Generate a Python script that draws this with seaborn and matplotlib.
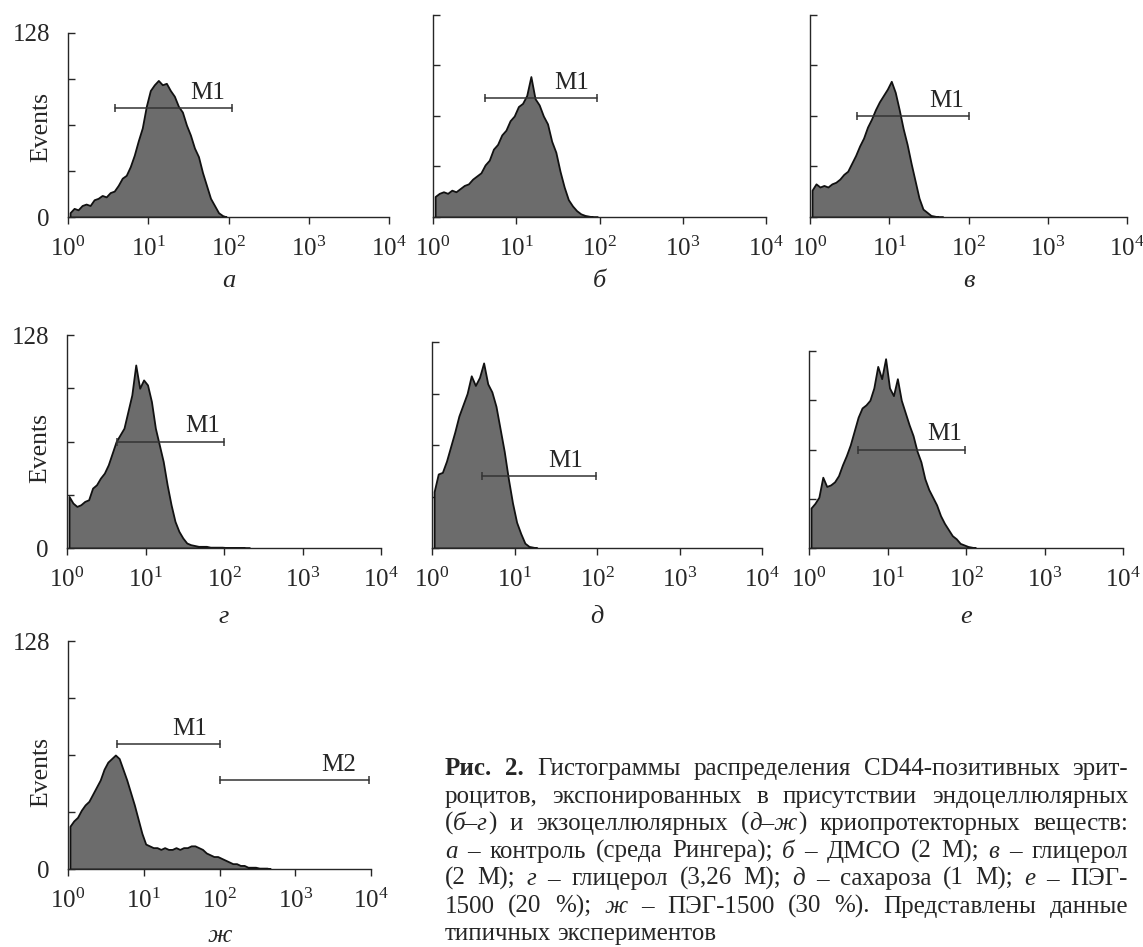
import numpy as np
import pandas as pd
import matplotlib
matplotlib.use("Agg")
import matplotlib.pyplot as plt
import matplotlib.ticker as mticker
import seaborn as sns

# ================================
# Data
# ================================
# histogram channels: 0.05-decade bins starting at 10^0
STEP = 0.05

events_a = [3, 6, 5, 8, 9, 8, 12, 13, 15, 14, 17, 18, 22, 27, 29, 35, 43, 53, 62, 77,
            88, 92, 95, 92, 93, 88, 84, 77, 73, 64, 57, 48, 42, 31, 22, 13, 8, 3, 1, 0]
events_b = [13, 15, 16, 15, 17, 16, 18, 20, 21, 24, 26, 28, 33, 36, 43, 46, 52, 55, 61, 64,
            70, 72, 77, 89, 75, 71, 64, 59, 48, 41, 29, 19, 11, 7, 4, 2, 1, 0.5, 0, 0]
events_v = [17, 21, 19, 20, 19, 21, 22, 24, 27, 29, 34, 39, 45, 50, 57, 62, 68, 73, 77, 81,
            86, 79, 68, 56, 46, 34, 23, 12, 5, 3, 1, 0.5, 0, 0]
events_g = [31, 27, 25, 26, 28, 29, 36, 38, 42, 45, 50, 57, 64, 68, 72, 82, 92, 110, 96, 101,
            98, 88, 72, 62, 52, 38, 26, 16, 10, 6, 3, 2, 1.5, 1, 1, 1, 0.5, 0.5, 0.5, 0.5,
            0.3, 0.3, 0.3, 0.3, 0.3, 0, 0]
events_d = [35, 46, 47, 54, 63, 72, 82, 89, 96, 107, 101, 106, 115, 102, 97, 88, 74, 60, 43, 28,
            16, 9, 3, 1, 0.5, 0]
events_e = [26, 29, 33, 46, 40, 41, 43, 47, 54, 60, 67, 76, 85, 91, 93, 96, 104, 118, 110, 123,
            104, 99, 110, 96, 88, 80, 73, 63, 56, 45, 38, 33, 28, 21, 16, 12, 8, 6, 3, 2,
            1, 0.5, 0]
events_zh = [24, 27, 29, 33, 36, 38, 42, 46, 50, 56, 60, 62, 64, 62, 56, 50, 43, 36, 28, 20,
             14, 13, 12, 12, 11, 12, 11, 11, 12, 11, 12, 12, 13, 13, 12, 11, 9, 8, 7, 7,
             6, 5, 4, 3, 3, 2, 2, 1, 1, 1, 0.5, 0.5, 0.5, 0]

panel_letters = ["а", "б", "в", "г", "д", "е", "ж"]
panel_events = [events_a, events_b, events_v, events_g, events_d, events_e, events_zh]

# marker gates: (name, log10 start, log10 end, level, log10 label centre)
gates = [
    [("M1", 0.59, 2.04, 76, 1.74)],
    [("M1", 0.62, 1.97, 75.5, 1.67)],
    [("M1", 0.59, 2.00, 64, 1.73)],
    [("M1", 0.64, 2.00, 64, 1.73)],
    [("M1", 0.61, 1.99, 45, 1.62)],
    [("M1", 0.63, 1.99, 64, 1.73)],
    [("M1", 0.65, 2.00, 70, 1.60), ("M2", 2.00, 3.97, 50, 3.57)],
]

x_ticks = [1, 10, 100, 1000, 10000]
x_ticklabels = [r"$10^{0}$", r"$10^{1}$", r"$10^{2}$", r"$10^{3}$", r"$10^{4}$"]
y_ticks = [0, 32, 64, 96, 128]

caption = [
    [("Рис. 2.", "b"), (" Гистограммы распределения CD44-позитивных эрит-", "n")],
    [("роцитов, экспонированных в присутствии эндоцеллюлярных", "n")],
    [("(", "n"), ("б–г", "i"), (") и экзоцеллюлярных (", "n"), ("д–ж", "i"),
     (") криопротекторных веществ:", "n")],
    [("а", "i"), (" – контроль (среда Рингера); ", "n"), ("б", "i"), (" – ДМСО (2 М); ", "n"),
     ("в", "i"), (" – глицерол", "n")],
    [("(2 М); ", "n"), ("г", "i"), (" – глицерол (3,26 М); ", "n"), ("д", "i"),
     (" – сахароза (1 М); ", "n"), ("е", "i"), (" – ПЭГ-", "n")],
    [("1500 (20 %); ", "n"), ("ж", "i"), (" – ПЭГ-1500 (30 %). Представлены данные", "n")],
    [("типичных экспериментов", "n")],
]

# ================================
# Layout (pixels in a 1143x947 canvas)
# ================================
W, H, DPI = 1143, 947, 100
# left, top, right, bottom of each plotting area
boxes = [(68, 33, 389, 217), (433, 15, 766, 217), (810, 15, 1127, 217),
         (67, 335, 381, 548), (432, 342, 762, 548), (809, 351, 1123, 548),
         (68, 641, 371, 869)]
letter_drop = [64, 64, 64, 69, 69, 69, 67]
events_label_y = {0: 0.489, 3: 0.469, 6: 0.425}

FILL = "#6c6c6c"
EDGE = "#111111"
CAP_LEFT, CAP_RIGHT = 445, 1128
CAP_BASE, CAP_LEAD = 775, 27.5
CAP_SIZE = 18

sns.set_style("ticks")
plt.rcParams["font.family"] = ["Liberation Serif", "DejaVu Serif"]
plt.rcParams["mathtext.fontset"] = "custom"
plt.rcParams["mathtext.rm"] = "Liberation Serif"
plt.rcParams["mathtext.it"] = "Liberation Serif:italic"
plt.rcParams["axes.linewidth"] = 1.0

fig = plt.figure(figsize=(W / DPI, H / DPI), dpi=DPI)

for i, (letter, vals) in enumerate(zip(panel_letters, panel_events)):
    l, t, r, b = boxes[i]
    ax = fig.add_axes([l / W, 1 - b / H, (r - l) / W, (b - t) / H])

    n = len(vals)
    df = pd.DataFrame({"fl": 10 ** (STEP * (np.arange(n) + 0.5)), "events": vals})
    sns.histplot(data=df, x="fl", weights="events", bins=n, binrange=(0, n * STEP),
                 log_scale=True, element="poly", fill=True, color=FILL, alpha=1,
                 edgecolor=EDGE, linewidth=1.3, ax=ax)

    ax.set_xlim(1, 1e4)
    ax.set_ylim(0, 128)
    ax.set(xlabel="", ylabel="")
    ax.set_xticks(x_ticks, x_ticklabels)
    ax.xaxis.set_minor_locator(mticker.NullLocator())
    if i in events_label_y:
        ax.set_yticks(y_ticks, ["0", "", "", "", "128"])
        ax.set_ylabel("Events", fontsize=18.5)
        ax.yaxis.set_label_coords(-16 / (r - l), events_label_y[i])
    else:
        ax.set_yticks(y_ticks, [""] * 5)
    ax.tick_params(axis="x", direction="out", length=5, width=1, pad=9, labelsize=18)
    ax.tick_params(axis="y", direction="in", length=5, width=1, pad=13, labelsize=18)
    sns.despine(ax=ax)

    for name, lo, hi, level, lab in gates[i]:
        ax.plot([10 ** lo, 10 ** hi], [level, level], color="#333333", lw=1.1,
                marker="|", markersize=6, mew=1.1)
        ax.annotate(name, xy=(10 ** lab, level), xytext=(0, 6.5), textcoords="offset points",
                    ha="center", va="baseline", fontsize=18)

    ax.annotate(letter, xy=(100, 0), xycoords=("data", "axes fraction"),
                xytext=(0, -letter_drop[i] * 72 / DPI), textcoords="offset points",
                ha="center", va="center", fontsize=19, fontstyle="italic")

# ================================
# Caption, justified line by line
# ================================
renderer = fig.canvas.get_renderer()
for row, runs in enumerate(caption):
    y = 1 - (CAP_BASE + row * CAP_LEAD) / H
    words = [[]]
    for text, style in runs:
        for k, part in enumerate(text.split(" ")):
            if k:
                words.append([])
            if part:
                words[-1].append((part, style))
    words = [w for w in words if w]

    placed, widths = [], []
    for w in words:
        pieces, total = [], 0
        for part, style in w:
            txt = fig.text(0, y, part, fontsize=CAP_SIZE, ha="left", va="baseline",
                           fontstyle="italic" if style == "i" else "normal",
                           fontweight="bold" if style == "b" else "normal")
            wpx = txt.get_window_extent(renderer).width
            pieces.append((txt, wpx))
            total += wpx
        placed.append(pieces)
        widths.append(total)

    if row < len(caption) - 1:
        gap = (CAP_RIGHT - CAP_LEFT - sum(widths)) / (len(words) - 1)
    else:
        gap = CAP_SIZE * 0.25 * DPI / 72
    x = CAP_LEFT
    for pieces in placed:
        for txt, wpx in pieces:
            txt.set_x(x / W)
            x += wpx
        x += gap

fig.savefig("out.png", dpi=DPI)
print("saved out.png")
